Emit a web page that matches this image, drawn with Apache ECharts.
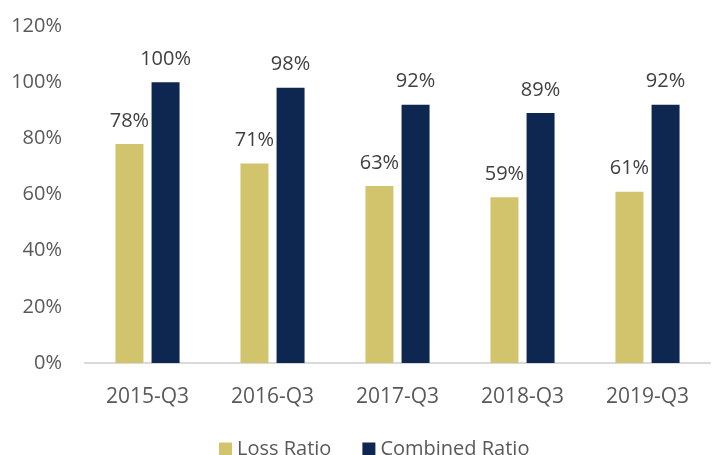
<!DOCTYPE html>
<html>
<head>
<meta charset="utf-8">
<script src="https://cdn.jsdelivr.net/npm/echarts@6/dist/echarts.min.js"></script>
<style>
  html, body { margin: 0; padding: 0; background: #fff; }
  #chart { width: 714px; height: 455px; }
</style>
</head>
<body>
<div id="chart"></div>
<script>
const categories = ['2015-Q3', '2016-Q3', '2017-Q3', '2018-Q3', '2019-Q3']
const lossRatio = [78, 71, 63, 59, 61]
const combinedRatio = [100, 98, 92, 89, 92]

const chart = echarts.init(document.getElementById('chart'))

const barLabel = {
  show: true,
  position: 'top',
  distance: 13,
  formatter: '{c}%',
  color: '#404040',
  fontFamily: 'Open Sans',
  fontSize: 20
}

chart.setOption({
  animation: false,
  grid: {
    left: 85,
    right: 4,
    top: 26,
    bottom: 92
  },
  legend: {
    data: ['Loss Ratio', 'Combined Ratio'],
    left: 214,
    top: 434,
    itemWidth: 13,
    itemHeight: 13,
    itemGap: 31,
    icon: 'rect',
    textStyle: {
      color: '#595959',
      fontFamily: 'Open Sans',
      fontSize: 20
    }
  },
  xAxis: {
    type: 'category',
    data: categories,
    axisTick: { show: false },
    axisLine: {
      lineStyle: { color: '#D9D9D9', width: 2 }
    },
    axisLabel: {
      color: '#595959',
      fontFamily: 'Open Sans',
      fontSize: 21,
      margin: 24
    }
  },
  yAxis: {
    type: 'value',
    min: 0,
    max: 120,
    interval: 20,
    splitLine: { show: false },
    axisLine: { show: false },
    axisTick: { show: false },
    axisLabel: {
      formatter: '{value}%',
      color: '#595959',
      fontFamily: 'Open Sans',
      fontSize: 20,
      margin: 23
    }
  },
  series: [
    {
      name: 'Loss Ratio',
      type: 'bar',
      data: lossRatio,
      barWidth: 28,
      barGap: '29%',
      itemStyle: { color: '#D2C46D' },
      label: barLabel
    },
    {
      name: 'Combined Ratio',
      type: 'bar',
      data: combinedRatio,
      barWidth: 28,
      barGap: '29%',
      itemStyle: { color: '#0D2751' },
      label: barLabel
    }
  ]
})
</script>
</body>
</html>
